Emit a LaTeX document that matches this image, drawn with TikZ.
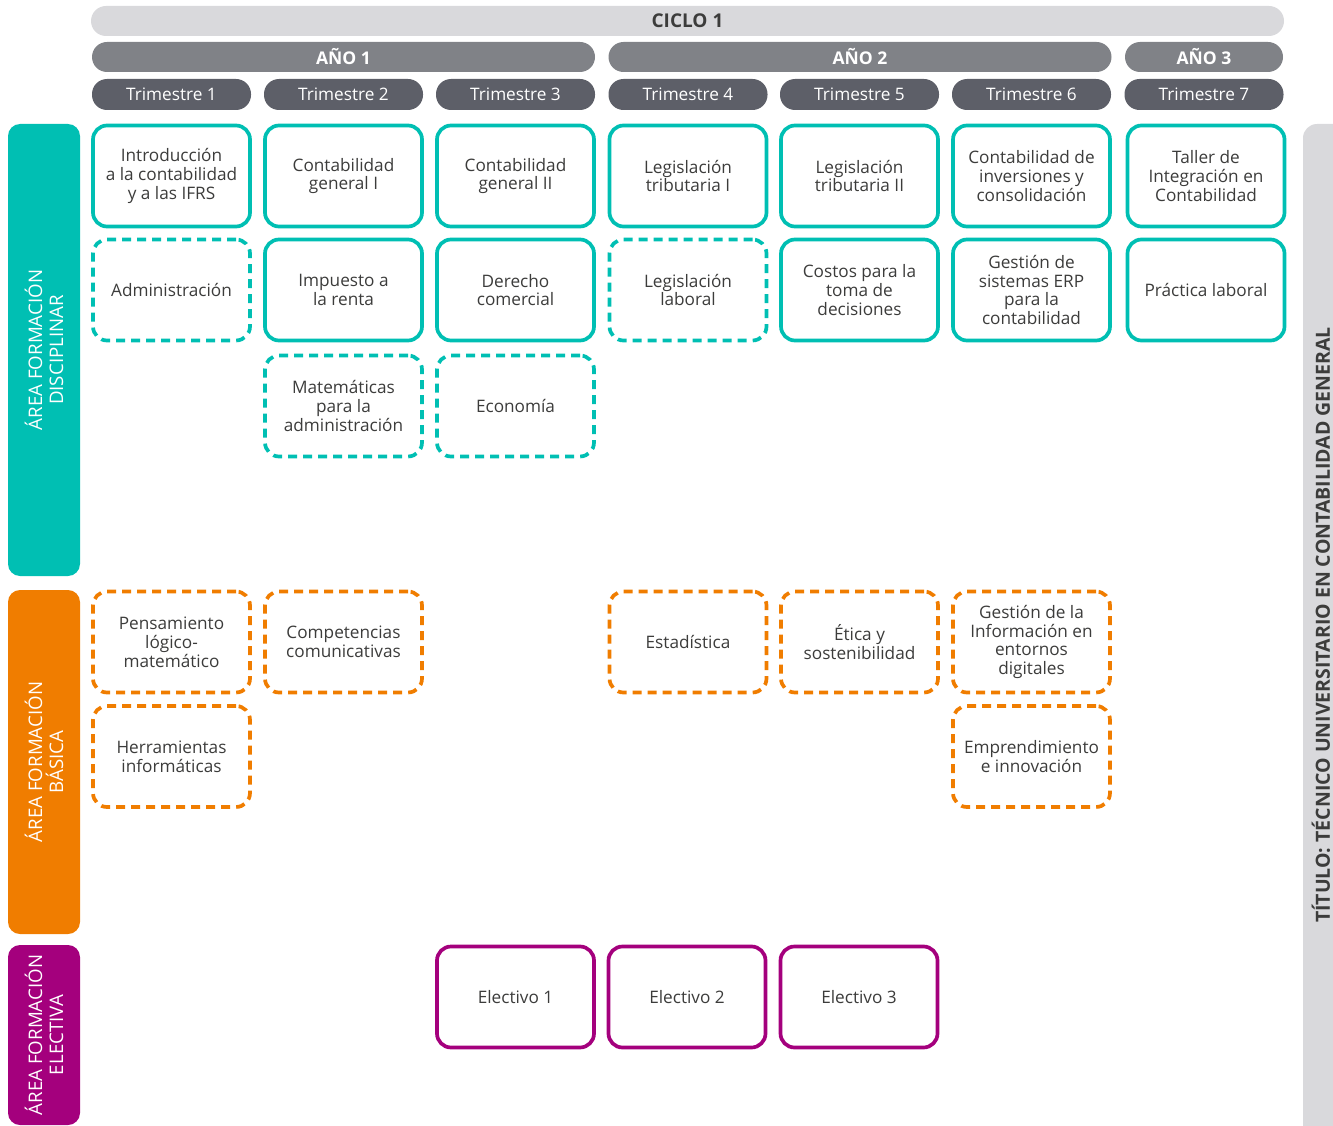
\documentclass[tikz,border=0pt]{standalone}
\usepackage{fontspec}
\setmainfont{Open Sans}
\definecolor{cteal}{HTML}{00BFB3}
\definecolor{corange}{HTML}{F07D00}
\definecolor{cmag}{HTML}{A4007D}
\definecolor{cciclo}{HTML}{D9D9DC}
\definecolor{cano}{HTML}{808287}
\definecolor{ctrim}{HTML}{5D5F68}
\definecolor{ctext}{HTML}{3C3C3B}
\tikzset{
  pill/.style={rounded corners=15pt, inner sep=0pt, minimum height=30pt},
  ciclohdr/.style={pill, fill=cciclo, text=ctext, font=\fontsize{19}{21}\selectfont\bfseries},
  anohdr/.style={pill, fill=cano, text=white, font=\fontsize{17.5}{20}\selectfont\bfseries, minimum width=503pt},
  trimhdr/.style={pill, fill=ctrim, text=white, font=\fontsize{17.2}{20}\selectfont, minimum width=159pt, minimum height=31pt},
  course/.style={draw=cteal, line width=3.7pt, rounded corners=14pt, minimum width=157pt, minimum height=101pt,
     inner sep=0pt, align=center, text=ctext, font=\fontsize{17.2}{18.8}\selectfont},
  opt/.style={dash pattern=on 9pt off 6pt},
  basic/.style={course, draw=corange, opt},
  elect/.style={course, draw=cmag},
  areabar/.style={rounded corners=12pt, minimum width=72pt, inner sep=0pt},
  arealbl/.style={rotate=90, text=white, align=center, font=\fontsize{18.7}{21}\selectfont},
}
\begin{document}
\begin{tikzpicture}[x=1pt,y=-1pt]
\useasboundingbox (0,0) rectangle (1333,1126);
\clip (0,0) rectangle (1333,1126);
% headers
\node[ciclohdr, minimum width=1193pt] (ciclo) at (687.5,21) {CICLO 1};
\node[anohdr] (a1) at (343.5,57) {AÑO 1};
\node[anohdr] (a2) at (860,57) {AÑO 2};
\node[anohdr, minimum width=158pt] (a3) at (1204,57) {AÑO 3};
\node[trimhdr] (t1) at (171.5,94.5) {Trimestre 1};
\node[trimhdr] (t2) at (343.5,94.5) {Trimestre 2};
\node[trimhdr] (t3) at (515.5,94.5) {Trimestre 3};
\node[trimhdr] (t4) at (688,94.5) {Trimestre 4};
\node[trimhdr] (t5) at (859.5,94.5) {Trimestre 5};
\node[trimhdr] (t6) at (1031.5,94.5) {Trimestre 6};
\node[trimhdr] (t7) at (1204,94.5) {Trimestre 7};
% area bars
\node[areabar, fill=cteal, minimum height=452pt] (ad) at (44,350) {};
\node[arealbl] (adl) at (ad.center) {ÁREA FORMACIÓN\\DISCIPLINAR};
\node[areabar, fill=corange, minimum height=344pt] (ab) at (44,762) {};
\node[arealbl] (abl) at (ab.center) {ÁREA FORMACIÓN\\BÁSICA};
\node[areabar, fill=cmag, minimum height=180pt] (ae) at (44,1035) {};
\node[arealbl] (ael) at (ae.center) {ÁREA FORMACIÓN\\ELECTIVA};
% title bar
\node[rounded corners=14pt, fill=cciclo, minimum width=50pt, minimum height=1030pt, inner sep=0pt] (tb) at (1328,639) {};
\node[rotate=90, text=ctext, font=\fontsize{19.5}{21}\selectfont\bfseries] (tbl) at (1321,625) {TÍTULO: TÉCNICO UNIVERSITARIO EN CONTABILIDAD GENERAL};
% disciplinar row 1
\node[course] (c11) at (171.5,176) {Introducción\\a la contabilidad\\y a las IFRS};
\node[course] (c21) at (343.5,176) {Contabilidad\\general I};
\node[course] (c31) at (515.5,176) {Contabilidad\\general II};
\node[course] (c41) at (688,176) {Legislación\\tributaria I};
\node[course] (c51) at (859.5,176) {Legislación\\tributaria II};
\node[course] (c61) at (1031.5,176) {Contabilidad de\\inversiones y\\consolidación};
\node[course] (c71) at (1206,176) {Taller de\\Integración en\\Contabilidad};
% row 2
\node[course, opt] (c12) at (171.5,290) {Administración};
\node[course] (c22) at (343.5,290) {Impuesto a\\la renta};
\node[course] (c32) at (515.5,290) {Derecho\\comercial};
\node[course, opt] (c42) at (688,290) {Legislación\\laboral};
\node[course] (c52) at (859.5,290) {Costos para la\\toma de\\decisiones};
\node[course] (c62) at (1031.5,290) {Gestión de\\sistemas ERP\\para la\\contabilidad};
\node[course] (c72) at (1206,290) {Práctica laboral};
% row 3
\node[course, opt] (c23) at (343.5,406) {Matemáticas\\para la\\administración};
\node[course, opt] (c33) at (515.5,406) {Economía};
% basic
\node[basic] (b11) at (171.5,642) {Pensamiento\\lógico-\\matemático};
\node[basic] (b21) at (343.5,642) {Competencias\\comunicativas};
\node[basic] (b41) at (688,642) {Estadística};
\node[basic] (b51) at (859.5,642) {Ética y\\sostenibilidad};
\node[basic] (b61) at (1031.5,642) {Gestión de la\\Información en\\entornos\\digitales};
\node[basic] (b12) at (171.5,756.5) {Herramientas\\informáticas};
\node[basic] (b62) at (1031.5,756.5) {Emprendimiento\\e innovación};
% electives
\node[elect] (e1) at (515.5,997) {Electivo 1};
\node[elect] (e2) at (687,997) {Electivo 2};
\node[elect] (e3) at (859,997) {Electivo 3};
\end{tikzpicture}
\end{document}
